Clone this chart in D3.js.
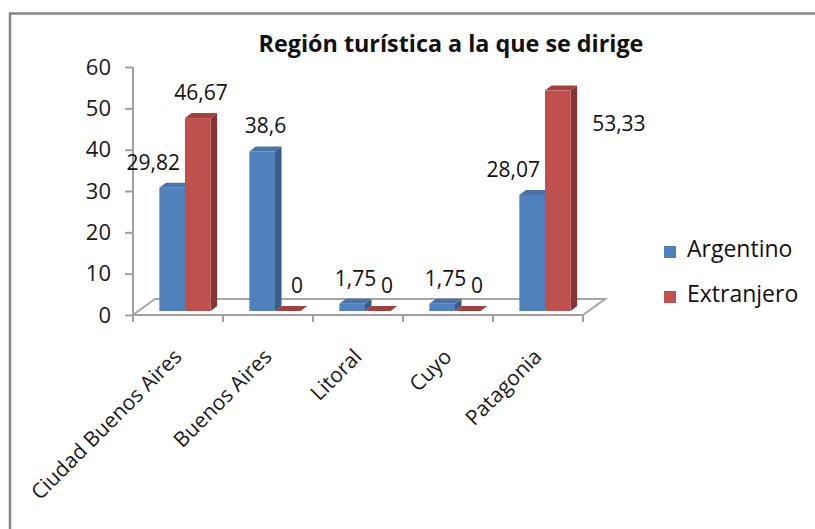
<!DOCTYPE html>
<html>
<head>
<meta charset="utf-8">
<script src="https://cdn.jsdelivr.net/npm/d3@7"></script>
<style>
  body { margin: 0; background: #fff; }
  svg { display: block; font-family: "Open Sans", "Noto Sans", sans-serif; }
</style>
</head>
<body>
<div class="chart"></div>
<script>
const title = "Región turística a la que se dirige";
const categories = ["Ciudad Buenos Aires", "Buenos Aires", "Litoral", "Cuyo", "Patagonia"];
const seriesNames = ["Argentino", "Extranjero"];
const argentino = [29.82, 38.6, 1.75, 1.75, 28.07];
const extranjero = [46.67, 0, 0, 0, 53.33];
const yTicks = [0, 10, 20, 30, 40, 50, 60];

const W = 815, H = 529;
const colors = {
    Argentino: {front: "#4f81bd", side: "#385d8a", top: "#4874aa"},
    Extranjero: {front: "#c0504d", side: "#843533", top: "#a4403d"}
};

// plot floor (front edge) and 3d offsets
const plot = {left: 133, right: 583, base: 315, top: 67};
const floorDepth = [22, -16];
const barFront = 0.25;          // where the bars start inside the floor depth
const barDepth = [6.5, -5];

const svg = d3.select('.chart').append('svg')
    .attr('width', W)
    .attr('height', H);

// outer frame
svg.append('rect')
    .attr('x', 10).attr('y', 13.5)
    .attr('width', W + 20).attr('height', H + 20)
    .attr('fill', 'none')
    .attr('stroke', '#868686')
    .attr('stroke-width', 2.5);

const y = d3.scaleLinear().domain([0, 60]).range([plot.base, plot.top]);
const x0 = d3.scaleBand().domain(categories).range([plot.left, plot.right]);
const groupW = x0.bandwidth() * 0.57;
const x1 = d3.scaleBand().domain(seriesNames).range([0, groupW]);

const fdx = floorDepth[0] * barFront, fdy = floorDepth[1] * barFront;

// floor
const floor = [
    [plot.left, plot.base], [plot.right, plot.base],
    [plot.right + floorDepth[0], plot.base + floorDepth[1]],
    [plot.left + floorDepth[0], plot.base + floorDepth[1]]
];
svg.append('polygon')
    .attr('points', floor.map(p => p.join(',')).join(' '))
    .attr('fill', '#fff')
    .attr('stroke', '#a6a6a6')
    .attr('stroke-width', 2);

// data rows
const data = [];
categories.forEach((c, i) => {
    data.push({cat: c, series: "Argentino", value: argentino[i]});
    data.push({cat: c, series: "Extranjero", value: extranjero[i]});
});
data.forEach(d => {
    d.xl = x0(d.cat) + (x0.bandwidth() - groupW) / 2 + x1(d.series) + fdx + 1.5;
    d.xr = d.xl + x1.bandwidth();
    d.yb = y(0) + fdy;
    d.yt = y(d.value) + fdy;
});

const pts = a => a.map(p => p.join(',')).join(' ');
const [bx, by] = barDepth;

const bars = svg.append('g').selectAll('g.bar')
    .data(data)
    .enter().append('g')
    .attr('class', 'bar');

bars.filter(d => d.value > 0).append('polygon')
    .attr('points', d => pts([[d.xr, d.yb], [d.xr + bx, d.yb + by], [d.xr + bx, d.yt + by], [d.xr, d.yt]]))
    .attr('fill', d => colors[d.series].side);
bars.append('polygon')
    .attr('points', d => pts([[d.xl, d.yt], [d.xl + bx, d.yt + by], [d.xr + bx, d.yt + by], [d.xr, d.yt]]))
    .attr('fill', d => colors[d.series].top);
bars.filter(d => d.value > 0).append('rect')
    .attr('x', d => d.xl)
    .attr('y', d => d.yt)
    .attr('width', d => d.xr - d.xl)
    .attr('height', d => d.yb - d.yt)
    .attr('fill', d => colors[d.series].front);

// axes
const axisColor = '#a0a0a0';
const yAxis = svg.append('g')
    .attr('transform', 'translate(' + plot.left + ',0)')
    .call(d3.axisLeft(y).tickValues(yTicks).tickSize(8).tickPadding(14).tickFormat(d3.format('d')));
yAxis.select('.domain').attr('stroke', axisColor).attr('stroke-width', 2).attr('d', 'M0,' + plot.base + 'V' + plot.top);
yAxis.selectAll('.tick line').attr('stroke', axisColor).attr('stroke-width', 2);
yAxis.selectAll('.tick text')
    .attr('fill', '#1a1a1a')
    .style('font-size', '22px')
    .style('font-family', '"Open Sans", sans-serif');

const xTicks = categories.map(c => x0(c)).concat([plot.right]);
svg.append('g').selectAll('line')
    .data(xTicks)
    .enter().append('line')
    .attr('x1', d => d).attr('x2', d => d)
    .attr('y1', plot.base).attr('y2', plot.base + 7)
    .attr('stroke', axisColor)
    .attr('stroke-width', 2);
svg.append('line')
    .attr('x1', plot.left).attr('x2', plot.right)
    .attr('y1', plot.base).attr('y2', plot.base)
    .attr('stroke', axisColor)
    .attr('stroke-width', 2);

// category labels, rotated
svg.append('g').selectAll('text')
    .data(categories)
    .enter().append('text')
    .attr('transform', d => 'translate(' + (x0(d) + x0.bandwidth() / 2 + 5) + ',' + (plot.base + 43) + ') rotate(-45)')
    .attr('text-anchor', 'end')
    .attr('fill', '#1a1a1a')
    .style('font-size', '21px')
    .text(d => d);

// title
const titleText = svg.append('text')
    .attr('x', 451)
    .attr('y', 52)
    .attr('text-anchor', 'middle')
    .attr('fill', '#111')
    .style('font-weight', 'bold')
    .style('font-size', '24px')
    .text(title);
const tw = titleText.node().getComputedTextLength();
titleText.style('font-size', (24 * 385 / tw) + 'px');
const titleBottom = 60;

// data labels
const fmt = d3.formatLocale({decimal: ",", thousands: ".", grouping: [3], currency: ["$", ""]}).format("~g");
const labels = svg.append('g').selectAll('text')
    .data(data)
    .enter().append('text')
    .attr('fill', '#111')
    .style('font-size', '21px')
    .text(d => fmt(d.value));

labels.each(function(d) {
    const el = d3.select(this);
    const w = this.getComputedTextLength();
    let cx = (d.xl + d.xr) / 2 + bx / 2;
    let base = d.yt - 18;
    let anchor = 'middle';
    // flat (zero) bars: label sits over the far end of the flat face
    if (d.value === 0) cx += 6;
    // neighbour in same category that is taller
    const other = data.find(o => o.cat === d.cat && o !== d);
    if (d.series === "Argentino" && other.value > d.value && cx + w / 2 > other.xl && base < other.yb) {
        cx = other.xl - 5;
        anchor = 'end';
    }
    if (base - 17 < titleBottom) {
        cx = d.xr + bx + 15;
        base = d.yt + 40;
        anchor = 'start';
    }
    el.attr('x', cx).attr('y', base).attr('text-anchor', anchor);
});

// legend
const legend = svg.append('g').selectAll('g')
    .data(seriesNames)
    .enter().append('g')
    .attr('transform', (d, i) => 'translate(664,' + (246 + i * 45) + ')');
legend.append('rect')
    .attr('width', 12).attr('height', 12)
    .attr('fill', d => colors[d].front);
legend.append('text')
    .attr('x', 23)
    .attr('y', 11)
    .attr('fill', '#111')
    .style('font-size', '23px')
    .text(d => d);
</script>
</body>
</html>
